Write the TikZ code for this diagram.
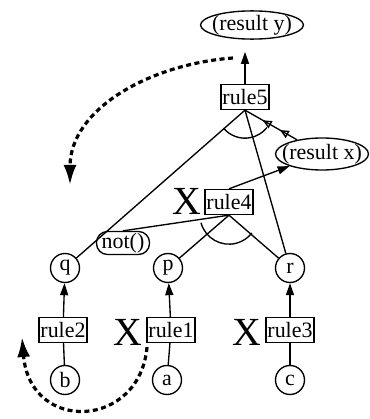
\documentclass[tikz,border=0pt]{standalone}
\usepackage{fontspec}
\setmainfont{Liberation Serif}
\usetikzlibrary{arrows.meta,shapes.geometric,decorations.markings}

\begin{document}
\begin{tikzpicture}[x=1bp,y=1bp,line width=1.35bp,
  font=\fontsize{22}{26}\selectfont,
  rulebox/.style={draw,inner xsep=1.5bp,inner ysep=0bp,minimum height=25bp},
  term/.style={draw,circle,inner sep=0bp,minimum size=29bp},
  result/.style={draw,ellipse,inner ysep=0bp},
  cross/.style={font=\fontsize{40}{42}\selectfont},
  arr/.style={-{Triangle[length=12bp,width=8bp]}},
  flow/.style={line width=3.2bp,dash pattern=on 5bp off 3.5bp,-{Latex[length=20bp,width=13bp]}},
  backlink/.style={postaction={decorate},decoration={markings,
    mark=at position 0.33 with {\arrow{Triangle[open,length=9bp,width=8bp]}},
    mark=at position 0.66 with {\arrow{Triangle[open,length=9bp,width=8bp]}}}}]
\useasboundingbox (0,0) rectangle (370,419);

\node[result,inner xsep=-3.5bp,minimum height=26bp] (resy) at (252,394) {(result y)};
\node[rulebox] (rule5) at (245,322) {rule5};
\node[result,inner xsep=-7bp,minimum height=32bp] (resx) at (322,265) {(result x)};
\node[rulebox] (rule4) at (229,217) {rule4};
\node[cross] (x4) at (187,218) {X};
\node[draw,rounded corners=11bp,inner sep=0bp,minimum width=53bp,minimum height=23bp] (neg) at (123,176) {not()};

\node[term] (q) at (65,151) {q};
\node[term] (p) at (168,151) {p};
\node[term] (r) at (290,151) {r};

\node[rulebox] (rule2) at (63,89) {rule2};
\node[rulebox] (rule1) at (171,89) {rule1};
\node[rulebox] (rule3) at (290,89) {rule3};
\node[cross] (x1) at (128,87) {X};
\node[cross] (x3) at (247,87) {X};

\node[term] (b) at (65,39) {b};
\node[term] (a) at (167,39) {a};
\node[term] (c) at (290,39) {c};

\draw[arr,shorten >=12bp] (rule5.north) -- (rule5.north |- resy.south);
\draw (rule5.south) -- (q);
\draw (rule5.south) -- (r);
\draw ([shift={(-140:28)}]rule5.south) arc[start angle=-140,end angle=-38,radius=28];
\draw[backlink] (resx) -- (rule5.south);

\draw[arr] (rule4.north) -- (resx);
\draw (rule4.south) -- (neg.north);
\draw (rule4.south) -- (p);
\draw (rule4.south) -- (r);
\draw ([shift={(-165:29)}]rule4.south) arc[start angle=-165,end angle=-38,radius=29];

\draw[arr] (rule2) -- (q);
\draw[arr] (rule1) -- (p);
\draw[arr] (rule3) -- (r);
\draw (b) -- (rule2);
\draw (a) -- (rule1);
\draw (c) -- (rule3);

\coordinate (fromtop) at (233,361);
\coordinate (totop) at (70,234);
\coordinate (frombot) at (147,72);
\coordinate (tobot) at (22,82);
\draw[flow] (fromtop) .. controls (150,355) and (70,310) .. (totop);
\draw[flow] (frombot) .. controls (140,-10) and (30,-15) .. (tobot);

\end{tikzpicture}
\end{document}
